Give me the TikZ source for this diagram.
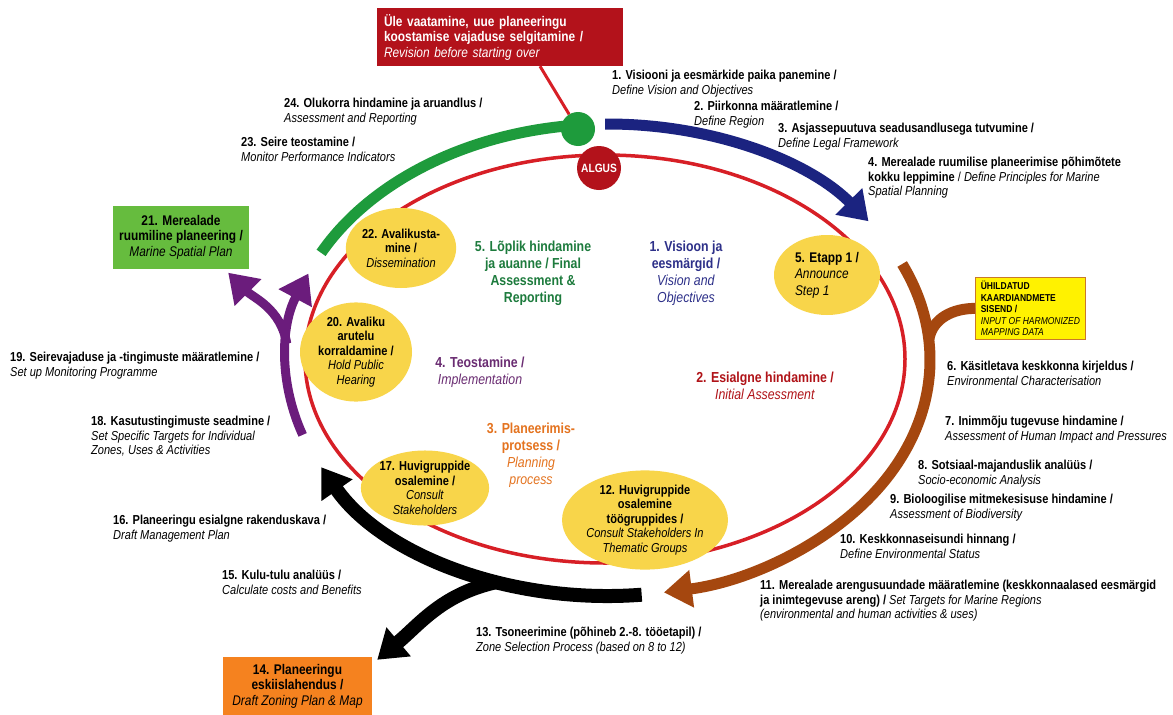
\documentclass[tikz,border=0pt]{standalone}
\usepackage{fontspec}
\setmainfont[FakeStretch=0.85]{Liberation Sans}
\usetikzlibrary{arrows.meta,shapes.geometric}

\definecolor{algusred}{HTML}{B3121B}
\definecolor{ringred}{HTML}{D71F26}
\definecolor{bandgreen}{HTML}{1E9B3C}
\definecolor{bandblue}{HTML}{1B2380}
\definecolor{bandbrown}{HTML}{A5470F}
\definecolor{bandpurple}{HTML}{6B1C7C}
\definecolor{blobyellow}{HTML}{F8D54A}
\definecolor{plangreen}{HTML}{66BC3E}
\definecolor{draftorange}{HTML}{F5821F}
\definecolor{visionblue}{HTML}{2D3089}
\definecolor{assessred}{HTML}{B01318}
\definecolor{planorange}{HTML}{E4731F}
\definecolor{implpurple}{HTML}{6A2C72}
\definecolor{finalgreen}{HTML}{1D7B3D}
\definecolor{databorder}{HTML}{C9792A}

\begin{document}
\begin{tikzpicture}[
  x=1pt,
  y=-1pt,
  font=\fontsize{13}{14.5}\selectfont,
  lbl/.style={
    anchor=north west,
    align=left,
    inner sep=0pt
  },
  midlbl/.style={
    align=center,
    inner sep=0pt,
    font=\fontsize{14.5}{17}\selectfont\bfseries
  },
  blob/.style={
    ellipse,
    fill=blobyellow,
    inner sep=0pt,
    align=center,
    font=\fontsize{13}{14.5}\selectfont
  },
  box/.style={
    rectangle,
    inner sep=0pt,
    align=center,
    font=\fontsize{14}{15.5}\selectfont
  },
  band/.style={
    line width=11pt
  },
  head/.style={
    -{Triangle[length=28pt,width=36pt]}
  },
  rim/.style={
    x radius=322pt,
    y radius=236pt
  }
  ]

  \fill[white] (0,0) rectangle (1173,715);
  \coordinate (ctr) at (608,360);

  % inner ring
  \draw[ringred, line width=3.5pt] (605,359) ellipse [x radius=300pt, y radius=204pt];

  % boxes
  \node (revision) [box, fill=algusred, text=white, minimum width=246pt, minimum height=58pt,
    text width=232pt, align=left] at (500,37)
    {\textbf{Üle vaatamine, uue planeeringu}\\\textbf{koostamise vajaduse selgitamine /}\\\textit{Revision before starting over}};
  \node (msp) [box, fill=plangreen, minimum width=136pt, minimum height=63pt] at (181,237)
    {\textbf{21. Merealade}\\\textbf{ruumiline planeering /}\\\textit{Marine Spatial Plan}};
  \node (draft) [box, fill=draftorange, minimum width=149pt, minimum height=58pt] at (297.5,686)
    {\textbf{14. Planeeringu}\\\textbf{eskiislahendus /}\\\textit{Draft Zoning Plan \& Map}};
  \node (mapdata) [lbl, draw=databorder, fill=yellow, thick, inner sep=3pt, minimum width=110pt,
    minimum height=62pt, font=\fontsize{10}{11.5}\selectfont] at (975,277)
    {\textbf{ÜHILDATUD}\\\textbf{KAARDIANDMETE}\\\textbf{SISEND /}\\\textit{INPUT OF HARMONIZED}\\\textit{MAPPING DATA}};

  % outer bands
  \draw[band, bandgreen] ([shift={(95:322pt and 236pt)}]ctr) arc[rim, start angle=95, end angle=153];
  \draw[band, bandblue, head] ([shift={(90.5:322pt and 236pt)}]ctr) arc[rim, start angle=90.5, end angle=36];
  \draw[band, bandbrown, head] ([shift={(24:322pt and 236pt)}]ctr) arc[rim, start angle=24, end angle=-80];
  \coordinate (merge) at ([shift={(5:322pt and 236pt)}]ctr);
  \draw[band, bandbrown] (mapdata.west) to[out=180,in=80] (merge);
  \draw[band, black, line width=14pt, head] ([shift={(-84:322pt and 236pt)}]ctr) arc[rim, start angle=-84, end angle=-153];
  \coordinate (split) at ([shift={(-110:322pt and 236pt)}]ctr);
  \draw[band, black, line width=14pt, head] (split) to[out=192,in=40] ([xshift=5pt,yshift=-3pt]draft.north east);
  \draw[band, bandpurple, line width=9pt, head] ([shift={(198.5:322pt and 236pt)}]ctr) arc[rim, start angle=198.5, end angle=158.5];
  \coordinate (fork) at ([shift={(176:322pt and 236pt)}]ctr);
  \draw[band, bandpurple, line width=9pt, head] (fork) to[out=100,in=-45] ([xshift=-21pt,yshift=-4pt]msp.south east);

  \node (greendot) [circle, fill=bandgreen, minimum size=34pt, inner sep=0pt] at (578,129) {};
  \draw[ringred, line width=3pt] ([xshift=40pt]revision.south) -- (greendot);
  \node (algus) [circle, fill=algusred, minimum size=44pt, inner sep=0pt, text=white,
    font=\fontsize{12}{14}\selectfont\bfseries] at (599,168) {ALGUS};

  % yellow steps on the ring
  \node (announce) [blob, minimum width=106pt, minimum height=80pt, align=left,
    font=\fontsize{14}{16.5}\selectfont] at (827,275)
    {\textbf{5. Etapp 1 /}\\\textit{Announce}\\\textit{Step 1}};
  \node (dissem) [blob, minimum width=94pt, minimum height=80pt] at (401,248)
    {\textbf{22. Avalikusta-}\\\textbf{mine /}\\\textit{Dissemination}};
  \node (hearing) [blob, minimum width=112pt, minimum height=94pt] at (356,352)
    {\textbf{20. Avaliku}\\\textbf{arutelu}\\\textbf{korraldamine /}\\\textit{Hold Public}\\\textit{Hearing}};
  \node (consult) [blob, minimum width=114pt, minimum height=74pt] at (425,488)
    {\textbf{17. Huvigruppide}\\\textbf{osalemine /}\\\textit{Consult}\\\textit{Stakeholders}};
  \node (thematic) [blob, minimum width=134pt, minimum height=90pt] at (645,520)
    {\textbf{12. Huvigruppide}\\\textbf{osalemine}\\\textbf{töögruppides /}\\\textit{Consult Stakeholders In}\\\textit{Thematic Groups}};

  % phase titles
  \node (vision) [midlbl, text=visionblue] at (686,273)
    {1. Visioon ja\\eesmärgid /\\\textmd{\textit{Vision and}}\\\textmd{\textit{Objectives}}};
  \node (initial) [midlbl, text=assessred] at (765,386)
    {2. Esialgne hindamine /\\\textmd{\textit{Initial Assessment}}};
  \node (planning) [midlbl, text=planorange] at (531,455)
    {3. Planeerimis-\\protsess /\\\textmd{\textit{Planning}}\\\textmd{\textit{process}}};
  \node (implement) [midlbl, text=implpurple] at (480,372)
    {4. Teostamine /\\\textmd{\textit{Implementation}}};
  \node (final) [midlbl, text=finalgreen] at (533,273)
    {5. Lõplik hindamine\\ja auanne / Final\\Assessment \&\\Reporting};

  % step labels
  \node (s1) [lbl] at (612,70) {\textbf{1. Visiooni ja eesmärkide paika panemine /}\\\textit{Define Vision and Objectives}};
  \node (s2) [lbl] at (694,101) {\textbf{2. Piirkonna määratlemine /}\\\textit{Define Region}};
  \node (s3) [lbl] at (778,123) {\textbf{3. Asjassepuutuva seadusandlusega tutvumine /}\\\textit{Define Legal Framework}};
  \node (s4) [lbl] at (868,157) {\textbf{4. Merealade ruumilise planeerimise põhimõtete}\\\textbf{kokku leppimine} / \textit{Define Principles for Marine}\\\textit{Spatial Planning}};
  \node (s6) [lbl] at (947,361) {\textbf{6. Käsitletava keskkonna kirjeldus /}\\\textit{Environmental Characterisation}};
  \node (s7) [lbl] at (945,416) {\textbf{7. Inimmõju tugevuse hindamine /}\\\textit{Assessment of Human Impact and Pressures}};
  \node (s8) [lbl] at (918,460) {\textbf{8. Sotsiaal-majanduslik analüüs /}\\\textit{Socio-economic Analysis}};
  \node (s9) [lbl] at (890,494) {\textbf{9. Bioloogilise mitmekesisuse hindamine /}\\\textit{Assessment of Biodiversity}};
  \node (s10) [lbl] at (840,534) {\textbf{10. Keskkonnaseisundi hinnang /}\\\textit{Define Environmental Status}};
  \node (s11) [lbl] at (760,580) {\textbf{11. Merealade arengusuundade määratlemine (keskkonnaalased eesmärgid}\\\textbf{ja inimtegevuse areng) /} \textit{Set Targets for Marine Regions}\\\textit{(environmental and human activities \& uses)}};
  \node (s13) [lbl] at (476,627) {\textbf{13. Tsoneerimine (põhineb 2.-8. tööetapil) /}\\\textit{Zone Selection Process (based on 8 to 12)}};
  \node (s15) [lbl] at (222,570) {\textbf{15. Kulu-tulu analüüs /}\\\textit{Calculate costs and Benefits}};
  \node (s16) [lbl] at (113,515) {\textbf{16. Planeeringu esialgne rakenduskava /}\\\textit{Draft Management Plan}};
  \node (s18) [lbl] at (91,416) {\textbf{18. Kasutustingimuste seadmine /}\\\textit{Set Specific Targets for Individual}\\\textit{Zones, Uses \& Activities}};
  \node (s19) [lbl] at (10,352) {\textbf{19. Seirevajaduse ja -tingimuste määratlemine /}\\\textit{Set up Monitoring Programme}};
  \node (s23) [lbl] at (241,137) {\textbf{23. Seire teostamine /}\\\textit{Monitor Performance Indicators}};
  \node (s24) [lbl] at (284,98) {\textbf{24. Olukorra hindamine ja aruandlus /}\\\textit{Assessment and Reporting}};
\end{tikzpicture}
\end{document}
